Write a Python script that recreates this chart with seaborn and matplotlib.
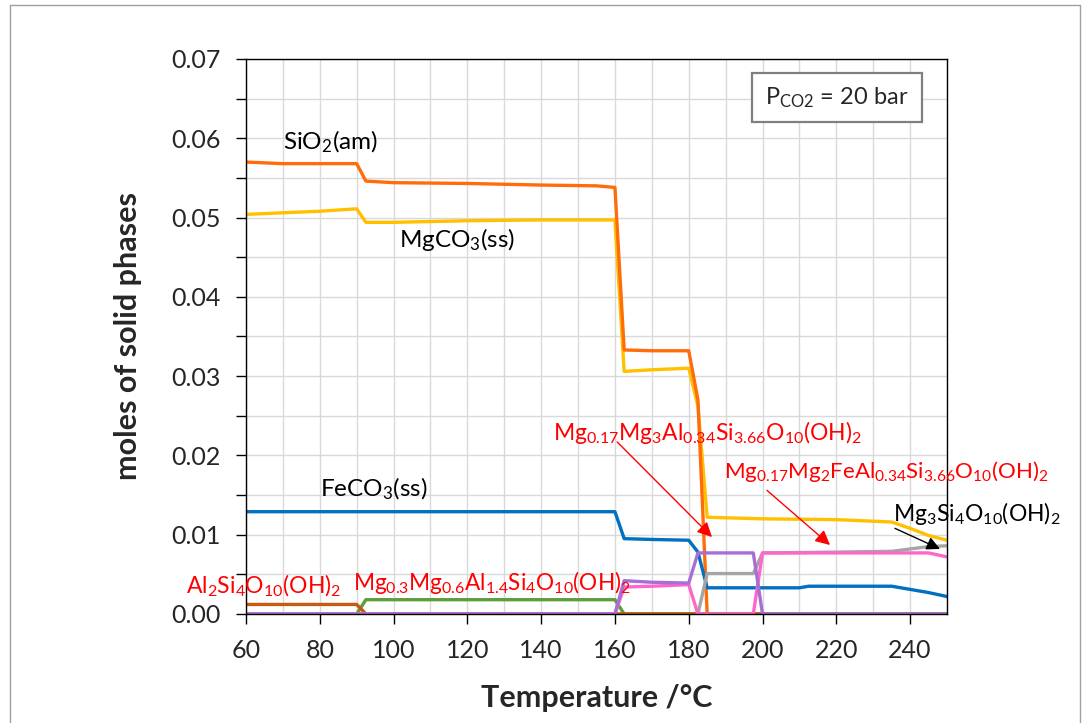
import pandas as pd
import numpy as np
import matplotlib
matplotlib.use("Agg")
import matplotlib.pyplot as plt
import seaborn as sns
from matplotlib.patches import Rectangle
from matplotlib.lines import Line2D
from matplotlib.ticker import FormatStrFormatter

# data (temperature in °C, moles)
t_mgco3 = [60, 70, 80, 90, 92.5, 100, 120, 140, 160, 162.5, 170, 180, 182.5, 185, 200, 220, 235, 240, 245, 250]
mgco3 = [0.0504, 0.0506, 0.0508, 0.0511, 0.0494, 0.0494, 0.0496, 0.0497, 0.0497, 0.0306, 0.0308, 0.0310,
         0.0262, 0.0122, 0.0120, 0.0119, 0.0116, 0.0108, 0.0099, 0.0093]

t_sio2 = [60, 70, 90, 92.5, 100, 120, 140, 155, 160, 162.5, 170, 180, 182.5, 185, 250]
sio2 = [0.0570, 0.0568, 0.0568, 0.0546, 0.0544, 0.0543, 0.0541, 0.0540, 0.0538, 0.0333, 0.0332, 0.0332,
        0.0270, 0.0, 0.0]

t_feco3 = [60, 160, 162.5, 170, 180, 182.5, 185, 210, 212.5, 235, 240, 245, 250]
feco3 = [0.0129, 0.0129, 0.0095, 0.0094, 0.0093, 0.0078, 0.0033, 0.0033, 0.0035, 0.0035, 0.0031, 0.0027, 0.0022]

t_talc = [60, 182.5, 185, 197.5, 200, 220, 235, 240, 245, 250]
talc = [0.0, 0.0, 0.0051, 0.0051, 0.0077, 0.0078, 0.0079, 0.0082, 0.0085, 0.0086]

t_mont = [60, 90, 92.5, 160, 162.5, 250]
mont = [0.0, 0.0, 0.0018, 0.0018, 0.0, 0.0]

t_pyro = [60, 90, 92.5, 250]
pyro = [0.0012, 0.0012, 0.0, 0.0]

t_sap_fe = [60, 160, 162.5, 170, 180, 182.5, 197.5, 200, 245, 250]
sap_fe = [0.0, 0.0, 0.0034, 0.0035, 0.0037, 0.0, 0.0, 0.0077, 0.0077, 0.0072]

t_sap_mg = [60, 160, 162.5, 170, 180, 182.5, 197.5, 200, 250]
sap_mg = [0.0, 0.0, 0.0042, 0.0040, 0.0039, 0.0077, 0.0077, 0.0, 0.0]

phases = ["MgCO3", "SiO2", "FeCO3", "talc", "montmorillonite", "pyrophyllite", "saponite-Fe", "saponite-Mg"]
colors = ["#FFC000", "#FF6C0A", "#0070C0", "#A5A5A5", "#5E9E3A", "#C55A11", "#FF66CC", "#A66FD6"]
temps = [t_mgco3, t_sio2, t_feco3, t_talc, t_mont, t_pyro, t_sap_fe, t_sap_mg]
values = [mgco3, sio2, feco3, talc, mont, pyro, sap_fe, sap_mg]

df = pd.concat([pd.DataFrame({"T": t, "moles": v, "phase": p}) for t, v, p in zip(temps, values, phases)],
               ignore_index=True)

sns.set_style("white")
plt.rcParams["font.family"] = ["Lato", "DejaVu Sans"]
plt.rcParams["mathtext.fontset"] = "custom"
plt.rcParams["mathtext.rm"] = "Lato"
plt.rcParams["mathtext.it"] = "Lato:italic"
plt.rcParams["mathtext.bf"] = "Lato:bold"
plt.rcParams["mathtext.default"] = "regular"

fig = plt.figure(figsize=(10.87, 7.23), dpi=100)
ax = fig.add_axes([0.2263, 0.1508, 0.6449, 0.7676])

sns.lineplot(data=df, x="T", y="moles", hue="phase", hue_order=phases, palette=colors,
             estimator=None, sort=False, legend=False, lw=2.4, ax=ax)

ax.set_xlim(60, 250)
ax.set_ylim(0, 0.07)
ax.set_xticks(np.arange(60, 251, 20))
ax.set_xticks(np.arange(60, 251, 10), minor=True)
ax.set_yticks(np.arange(0, 0.0701, 0.01))
ax.set_yticks(np.arange(0, 0.0701, 0.005), minor=True)
ax.yaxis.set_major_formatter(FormatStrFormatter("%.2f"))
ax.grid(True, which="both", color="#D9D9D9", lw=1)
ax.set_axisbelow(True)
ax.tick_params(axis="both", which="both", direction="out", length=7, width=1, color="black",
               labelsize=18, pad=11, left=True, bottom=True)
ax.tick_params(axis="x", which="minor", length=0)
for s in ax.spines.values():
    s.set_color("black")
    s.set_linewidth(1)

ax.set_xlabel("Temperature /°C", fontsize=22, fontweight="bold", labelpad=16)
ax.set_ylabel("moles of solid phases", fontsize=22, fontweight="bold", labelpad=21)

# phase labels
txt = dict(ha="left", va="baseline", clip_on=False)
ax.text(70.0, 0.0586, "SiO$_2$(am)", color="black", fontsize=17.5, **txt)
ax.text(101.5, 0.0463, "MgCO$_3$(ss)", color="black", fontsize=17.5, **txt)
ax.text(80.1, 0.0148, "FeCO$_3$(ss)", color="black", fontsize=17.5, **txt)
ax.text(43.7, 0.0026, "Al$_2$Si$_4$O$_{10}$(OH)$_2$", color="red", fontsize=16.5, **txt)
ax.text(89.0, 0.0030, "Mg$_{0.3}$Mg$_{0.6}$Al$_{1.4}$Si$_4$O$_{10}$(OH)$_2$", color="red", fontsize=16.3, **txt)
ax.text(143.2, 0.0219, "Mg$_{0.17}$Mg$_3$Al$_{0.34}$Si$_{3.66}$O$_{10}$(OH)$_2$", color="red", fontsize=16.5, **txt)
ax.text(189.6, 0.0171, "Mg$_{0.17}$Mg$_2$FeAl$_{0.34}$Si$_{3.66}$O$_{10}$(OH)$_2$", color="red", fontsize=16, **txt)
ax.text(235.4, 0.0117, "Mg$_3$Si$_4$O$_{10}$(OH)$_2$", color="black", fontsize=16.5, **txt)

arrow_red = dict(arrowstyle="-|>", color="red", lw=1, mutation_scale=22, shrinkA=0, shrinkB=0)
ax.annotate("", xy=(186.3, 0.0097), xytext=(160.6, 0.0217), arrowprops=arrow_red)
ax.annotate("", xy=(218.3, 0.0087), xytext=(201.2, 0.0156), arrowprops=arrow_red)
ax.annotate("", xy=(248.1, 0.0082), xytext=(235.9, 0.0108),
            arrowprops=dict(arrowstyle="-|>", color="black", lw=1, mutation_scale=20, shrinkA=0, shrinkB=0))

# pressure box
ax.add_patch(Rectangle((0.7218, 0.8865), 0.2425, 0.0883, transform=ax.transAxes, facecolor="white",
                       edgecolor="#7F7F7F", lw=1.6, zorder=5))
ax.text(0.843, 0.930, "P$_{CO2}$ = 20 bar", transform=ax.transAxes, fontsize=17, ha="center",
        va="center", zorder=6)

# outer chart frame
frame = dict(color="#A0A0A0", lw=1, transform=fig.transFigure)
fig.add_artist(Line2D([0.0092, 0.0092], [0.0, 0.9931], **frame))
fig.add_artist(Line2D([0.0092, 0.9936], [0.9931, 0.9931], **frame))
fig.add_artist(Line2D([0.9936, 0.9936], [0.0, 0.9931], **frame))

fig.savefig("out.png", dpi=100)
plt.close(fig)
